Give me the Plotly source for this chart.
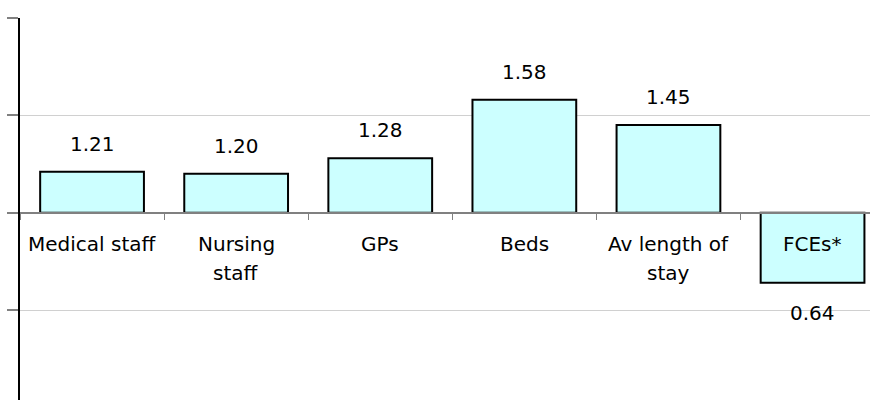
import plotly.graph_objects as go

# Ratios relative to a reference level of 1.0
categories = ["Medical staff", "Nursing staff", "GPs", "Beds", "Av length of stay", "FCEs*"]
category_lines = [["Medical staff"], ["Nursing", "staff"], ["GPs"], ["Beds"], ["Av length of", "stay"], ["FCEs*"]]
values = [1.21, 1.20, 1.28, 1.58, 1.45, 0.64]
value_labels = ["1.21", "1.20", "1.28", "1.58", "1.45", "0.64"]

BASE = 1.0
Y_TOP = 2.0
Y_BOTTOM = 0.0377
FONT = "DejaVu Sans"
FSIZE = 20

fig = go.Figure(
    go.Bar(
        x=categories,
        y=[v - BASE for v in values],
        base=BASE,
        marker=dict(color="#CCFFFF", line=dict(color="#000000", width=2)),
        hoverinfo="skip",
    )
)

# Value labels above (or below, for values under 1) each bar
for cat, v, lab in zip(categories, values, value_labels):
    fig.add_annotation(
        x=cat, y=v, text=lab, showarrow=False,
        yanchor="middle", yshift=28 if v >= BASE else -30,
        font=dict(family=FONT, size=FSIZE, color="#000000"),
    )

# Category names just under the baseline, one annotation per text line
for cat, lines in zip(categories, category_lines):
    for i, line in enumerate(lines):
        fig.add_annotation(
            x=cat, y=BASE, text=line, showarrow=False,
            yanchor="middle", yshift=-31 - 29 * i,
            font=dict(family=FONT, size=FSIZE, color="#000000"),
        )

base_pos = (BASE - Y_BOTTOM) / (Y_TOP - Y_BOTTOM)

fig.update_layout(
    width=870, height=400,
    margin=dict(l=20, r=0, t=18, b=0),
    paper_bgcolor="white", plot_bgcolor="white",
    bargap=0.28, showlegend=False,
    font=dict(family=FONT, size=FSIZE, color="#000000"),
    xaxis=dict(
        type="category",
        range=[-0.5, -0.5 + 850 / 144.1],
        anchor="free", position=base_pos,
        showline=True, linecolor="#808080", linewidth=1.5,
        ticks="outside", tickson="boundaries", ticklen=7,
        tickcolor="#808080", tickwidth=1,
        showticklabels=False,
        showgrid=False, zeroline=False,
    ),
    yaxis=dict(
        range=[Y_BOTTOM, Y_TOP],
        tickvals=[0, 0.5, 1.0, 1.5, 2.0],
        showticklabels=False,
        ticks="outside", ticklen=11, tickcolor="#808080", tickwidth=1.5,
        showline=True, linecolor="#000000", linewidth=1.5,
        showgrid=True, gridcolor="#d0d0d0", gridwidth=1,
        zeroline=False,
    ),
)

fig.write_html("out.html")
